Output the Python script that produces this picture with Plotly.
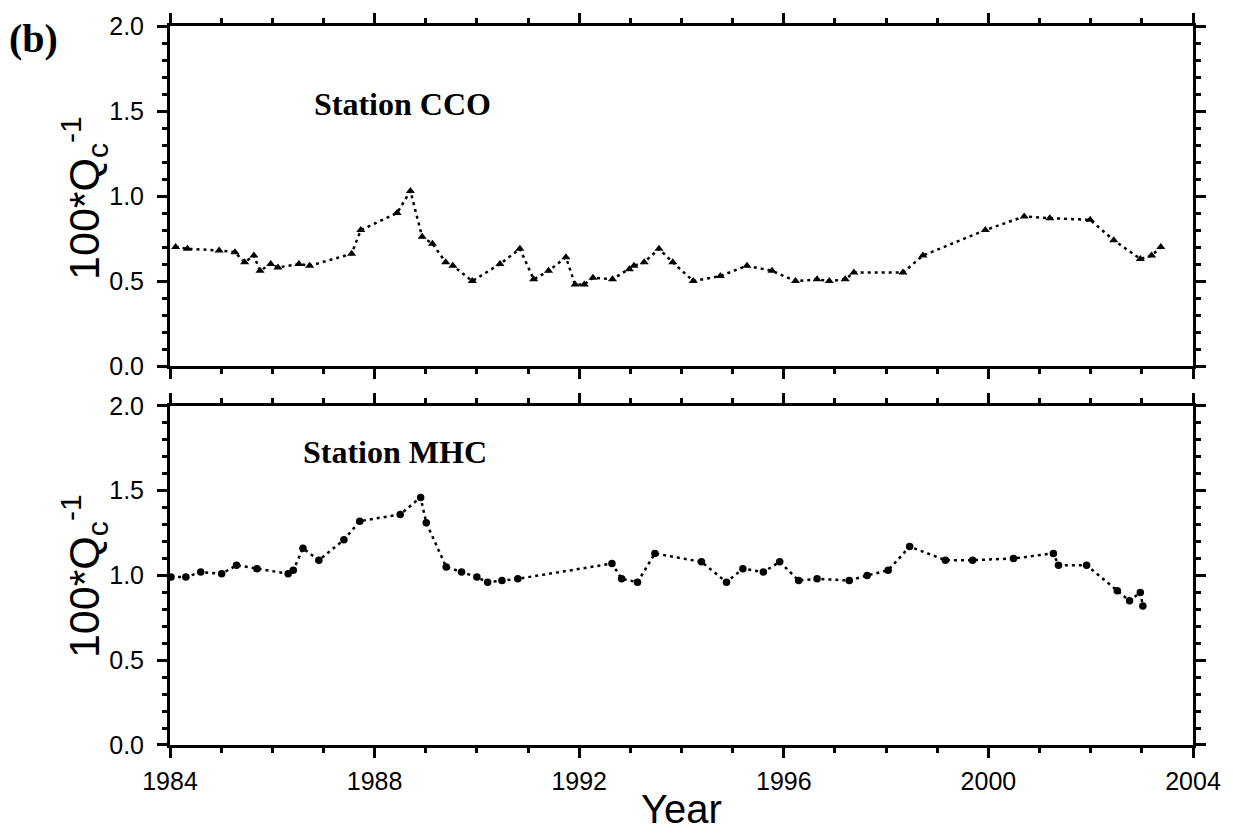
import plotly.graph_objects as go

# Station CCO (top panel)
cco_year = [1984.11, 1984.34, 1984.96, 1985.27, 1985.46, 1985.64, 1985.76, 1985.97, 1986.11,
            1986.52, 1986.73, 1987.55, 1987.73, 1988.44, 1988.70, 1988.93, 1989.13, 1989.39,
            1989.53, 1989.91, 1990.45, 1990.84, 1991.11, 1991.40, 1991.74, 1991.92, 1992.10,
            1992.27, 1992.65, 1992.98, 1993.07, 1993.27, 1993.56, 1993.83, 1994.23, 1994.76,
            1995.28, 1995.77, 1996.23, 1996.65, 1996.89, 1997.20, 1997.37, 1998.33, 1998.72,
            1999.94, 2000.70, 2001.20, 2001.99, 2002.45, 2002.97, 2003.19, 2003.37]
cco_q = [0.70, 0.69, 0.68, 0.67, 0.61, 0.65, 0.56, 0.60, 0.58,
         0.60, 0.59, 0.66, 0.80, 0.90, 1.03, 0.76, 0.72, 0.61,
         0.59, 0.50, 0.60, 0.69, 0.51, 0.56, 0.64, 0.48, 0.48,
         0.52, 0.51, 0.57, 0.59, 0.61, 0.69, 0.61, 0.50, 0.53,
         0.59, 0.56, 0.50, 0.51, 0.50, 0.51, 0.55, 0.55, 0.65,
         0.80, 0.88, 0.87, 0.86, 0.74, 0.63, 0.65, 0.70]

# Station MHC (bottom panel)
mhc_year = [1984.02, 1984.31, 1984.60, 1985.01, 1985.30, 1985.70, 1986.31, 1986.41, 1986.60,
            1986.91, 1987.40, 1987.71, 1988.50, 1988.90, 1989.01, 1989.40, 1989.70, 1990.00,
            1990.21, 1990.49, 1990.80, 1992.64, 1992.83, 1993.14, 1993.48, 1994.39, 1994.88,
            1995.20, 1995.60, 1995.92, 1996.29, 1996.65, 1997.28, 1997.63, 1998.04, 1998.46,
            1999.16, 1999.69, 2000.49, 2001.27, 2001.37, 2001.92, 2002.52, 2002.76, 2002.97,
            2003.02]
mhc_q = [0.99, 0.99, 1.02, 1.01, 1.06, 1.04, 1.01, 1.03, 1.16,
         1.09, 1.21, 1.32, 1.36, 1.46, 1.31, 1.05, 1.02, 0.99,
         0.96, 0.97, 0.98, 1.07, 0.98, 0.96, 1.13, 1.08, 0.96,
         1.04, 1.02, 1.08, 0.97, 0.98, 0.97, 1.00, 1.03, 1.17,
         1.09, 1.09, 1.10, 1.13, 1.06, 1.06, 0.91, 0.85, 0.90,
         0.82]

x_range = [1984, 2004]
y_range = [0, 2]

fig = go.Figure()
fig.add_trace(go.Scatter(x=cco_year, y=cco_q, xaxis="x2", yaxis="y2", mode="lines+markers",
                         line=dict(color="black", width=2.5, dash="3px,4px"),
                         marker=dict(symbol="triangle-up", size=8, color="black"),
                         showlegend=False))
fig.add_trace(go.Scatter(x=mhc_year, y=mhc_q, xaxis="x", yaxis="y", mode="lines+markers",
                         line=dict(color="black", width=2.5, dash="3px,4px"),
                         marker=dict(symbol="circle", size=7.5, color="black"),
                         showlegend=False))

tickfont = dict(family="Liberation Sans, Arial, sans-serif", size=25, color="black")

def xax(anchor, labels):
    return dict(range=x_range, anchor=anchor, tick0=1984, dtick=4, ticks="outside",
                ticklen=10, tickwidth=2.5, tickcolor="black", showline=True, linewidth=3,
                linecolor="black", mirror="allticks", showgrid=False, zeroline=False,
                showticklabels=labels, tickfont=tickfont, ticklabelstandoff=2,
                minor=dict(tick0=1984, dtick=1, ticks="outside", ticklen=5, tickwidth=2.5,
                           tickcolor="black", showgrid=False))

def yax(anchor, domain):
    return dict(range=y_range, domain=domain, anchor=anchor, tick0=0, dtick=0.5,
                tickformat=".1f", ticks="outside", ticklen=10, tickwidth=2.5,
                tickcolor="black", showline=True, linewidth=3, linecolor="black",
                mirror="allticks", showgrid=False, zeroline=False, tickfont=tickfont,
                ticklabelstandoff=8,
                minor=dict(tick0=0, dtick=0.1, ticks="outside", ticklen=5, tickwidth=2.5,
                           tickcolor="black", showgrid=False))

serif_bold = dict(family="Liberation Serif, Times New Roman, serif", size=32, color="black")
sans_title = dict(family="Liberation Sans, Arial, sans-serif", size=43, color="black")

fig.update_layout(
    width=1233, height=838,
    margin=dict(l=170, r=38, t=22, b=93),
    paper_bgcolor="white", plot_bgcolor="white",
    xaxis=xax("y", True),
    yaxis=yax("x", [0, 0.4717]),
    xaxis2=xax("y2", False),
    yaxis2=yax("x2", [0.527, 1.0]),
    annotations=[
        dict(text="<b>(b)</b>", x=-0.1337, y=0.982, xref="paper", yref="paper",
             xanchor="center", yanchor="middle", showarrow=False,
             font=dict(family="Liberation Serif, Times New Roman, serif", size=40, color="black")),
        dict(text="<b>Station CCO</b>", x=0.2273, y=0.892, xref="paper", yref="paper",
             xanchor="center", yanchor="middle", showarrow=False, font=serif_bold),
        dict(text="<b>Station MHC</b>", x=0.2195, y=0.408, xref="paper", yref="paper",
             xanchor="center", yanchor="middle", showarrow=False, font=serif_bold),
        dict(text="100*Q<sub>c</sub><sup>-1</sup>", x=-0.0840, y=0.761, xref="paper",
             yref="paper", xanchor="center", yanchor="middle", showarrow=False,
             textangle=-90, font=sans_title),
        dict(text="100*Q<sub>c</sub><sup>-1</sup>", x=-0.0840, y=0.235, xref="paper",
             yref="paper", xanchor="center", yanchor="middle", showarrow=False,
             textangle=-90, font=sans_title),
        dict(text="Year", x=0.5, y=-0.0885, xref="paper", yref="paper",
             xanchor="center", yanchor="middle", showarrow=False,
             font=dict(family="Liberation Sans, Arial, sans-serif", size=40, color="black")),
    ],
)

fig.write_html("out.html")
